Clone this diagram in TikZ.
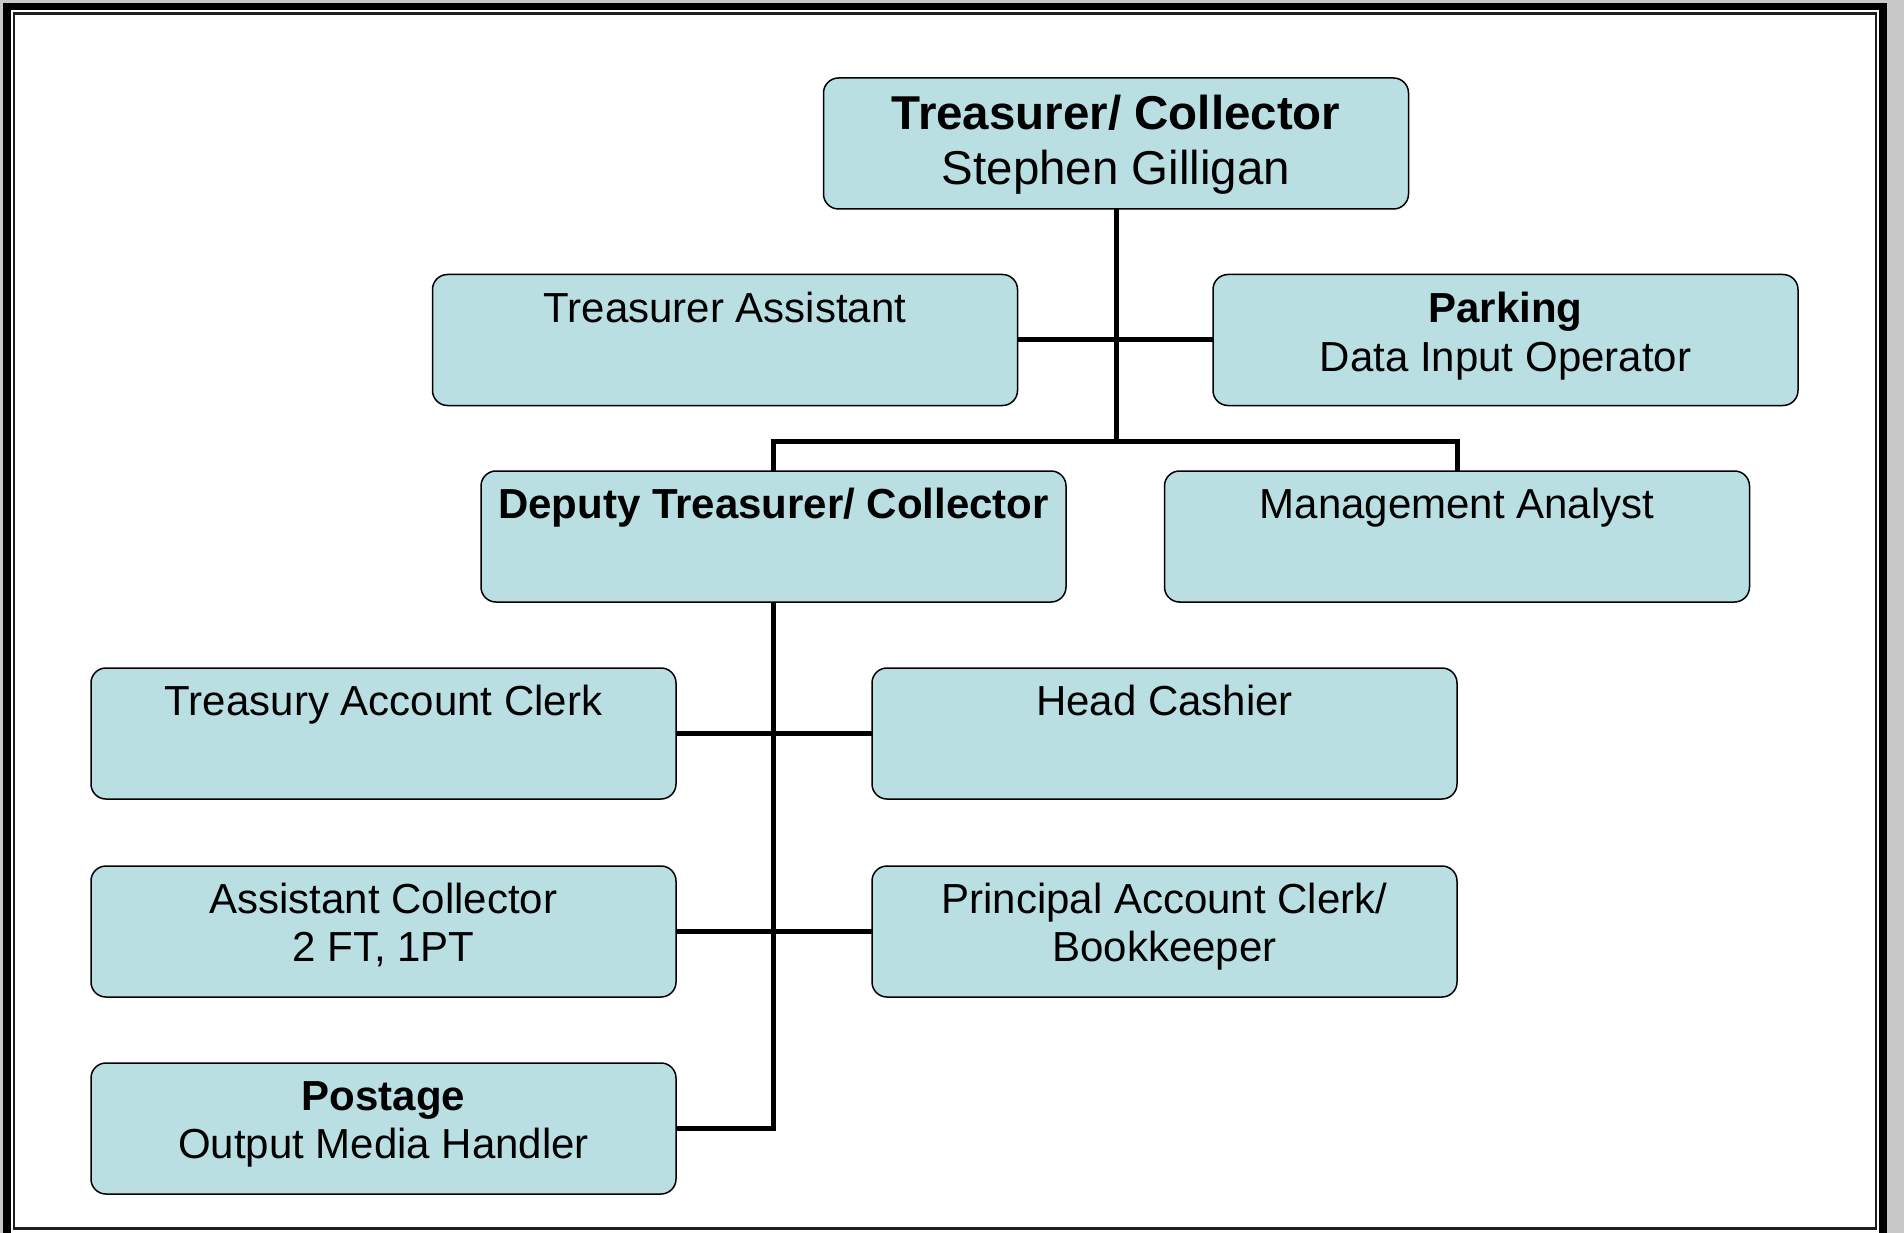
\documentclass[tikz,border=0pt]{standalone}
\usepackage{fontspec}
\setmainfont{Liberation Sans}
\definecolor{boxfill}{RGB}{185,223,226}
\definecolor{framegray}{RGB}{200,200,200}
\definecolor{thinline}{RGB}{30,30,30}
\newcommand{\boxtext}[2]{\parbox[c][131pt][t]{585pt}{\centering\fontsize{42}{48.5}\selectfont\rule{0pt}{#1}#2}}
\begin{document}
\begin{tikzpicture}[x=1pt,y=-1pt,
  orgbox/.style={draw=black, line width=1.5pt, fill=boxfill, rounded corners=15pt, inner sep=0pt, outer sep=0pt},
  conn/.style={draw=black, line width=5pt}]
% background and frame
\fill[framegray] (0,0) rectangle (1904,1233);
\useasboundingbox (0,0) rectangle (1904,1233);
\fill[black] (3,3) rectangle (1887,1300);
\fill[white] (10.5,10.5) rectangle (1879,1233);
\draw[thinline, line width=2.5pt] (13.75,13.75) rectangle (1876,1228.5);
% nodes
\node[orgbox] (top) at (1116,143.5) {\parbox[c][131pt][t]{585pt}{\centering\fontsize{47.5}{55}\selectfont\rule{0pt}{52pt}\textbf{Treasurer/ Collector}\\Stephen Gilligan}};
\node[orgbox] (ta) at (725,340) {\boxtext{48pt}{Treasurer Assistant}};
\node[orgbox] (park) at (1505.5,340) {\boxtext{48pt}{\textbf{Parking}\\Data Input Operator}};
\node[orgbox] (dep) at (773.5,536.5) {\boxtext{47pt}{\textbf{Deputy Treasurer/ Collector}}};
\node[orgbox] (mgmt) at (1457,536.5) {\boxtext{47pt}{Management Analyst}};
\node[orgbox] (tac) at (383.5,733.5) {\boxtext{47pt}{Treasury Account Clerk}};
\node[orgbox] (hc) at (1164.5,733.5) {\boxtext{47pt}{Head Cashier}};
\node[orgbox] (ac) at (383.5,931.5) {\boxtext{47pt}{Assistant Collector\\2 FT, 1PT}};
\node[orgbox] (pac) at (1164.5,931.5) {\boxtext{47pt}{Principal Account Clerk/\\Bookkeeper}};
\node[orgbox] (post) at (383.5,1128.5) {\boxtext{47pt}{\textbf{Postage}\\Output Media Handler}};
% connectors
\coordinate (bus) at (1116,441);
\draw[conn] (top.south) -- (bus);
\draw[conn] (ta.east) -- (park.west);
\draw[conn] (dep.north) -- (dep.north |- bus) -- (mgmt.north |- bus) -- (mgmt.north);
\draw[conn] (dep.south) -- (dep.south |- post.east) -- (post.east);
\draw[conn] (tac.east) -- (hc.west);
\draw[conn] (ac.east) -- (pac.west);
\end{tikzpicture}
\end{document}
